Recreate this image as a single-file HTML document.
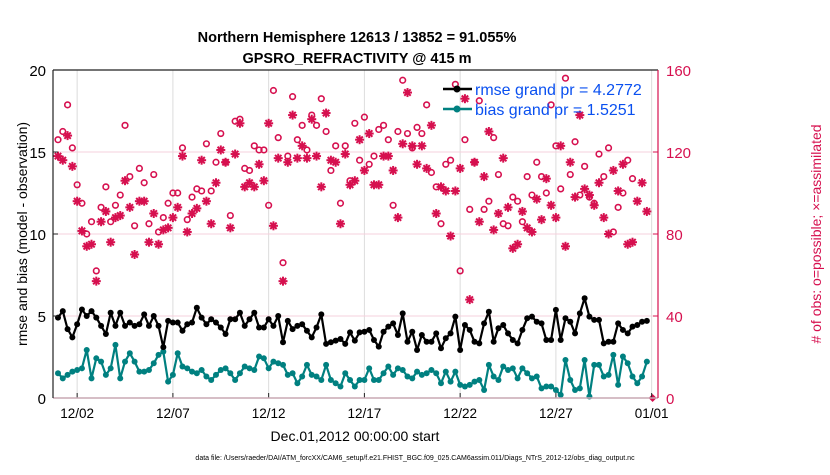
<!DOCTYPE html>
<html><head><meta charset="utf-8">
<style>
body{margin:0;background:#fff;}
svg text{font-family:"Liberation Sans",Arial,sans-serif;}
</style></head>
<body>
<svg id="chart" width="830" height="470" viewBox="0 0 830 470">
<rect width="830" height="470" fill="#fff"/>
<text x="357" y="42" font-size="14.5" font-weight="bold" text-anchor="middle">Northern Hemisphere 12613 / 13852 = 91.055%</text>
<text x="357" y="63" font-size="14.5" font-weight="bold" text-anchor="middle">GPSRO_REFRACTIVITY @ 415 m</text>
<g id="grid"></g>
<g id="marks"></g>
<g id="axes"></g>
<text transform="translate(27,234) rotate(-90)" font-size="14" text-anchor="middle">rmse and bias (model - observation)</text>
<text transform="translate(821,234) rotate(-90)" font-size="14" fill="#d6104f" text-anchor="middle"># of obs: o=possible; ×=assimilated</text>
<text x="355" y="441" font-size="14" text-anchor="middle">Dec.01,2012 00:00:00 start</text>
<text x="415" y="460" font-size="7" text-anchor="middle">data file: /Users/raeder/DAI/ATM_forcXX/CAM6_setup/f.e21.FHIST_BGC.f09_025.CAM6assim.011/Diags_NTrS_2012-12/obs_diag_output.nc</text>
<g>
  <line x1="443" y1="89" x2="472" y2="89" stroke="#000" stroke-width="2.5"/>
  <circle cx="457" cy="89" r="3.5" fill="#000"/>
  <text x="475" y="95" font-size="16" fill="#0a50f0">rmse grand pr = 4.2772</text>
  <line x1="443" y1="109" x2="472" y2="109" stroke="#008080" stroke-width="2.5"/>
  <circle cx="457" cy="109" r="3.5" fill="#008080"/>
  <text x="475" y="115" font-size="16" fill="#0a50f0">bias grand pr = 1.5251</text>
</g>
</svg>
<script>
const rmse=[4.9,5.3,4.2,3.7,4.5,5.4,5.0,5.3,4.9,4.4,3.9,5.2,4.4,5.2,4.4,4.6,4.4,4.5,5.1,4.4,5.0,4.4,3.1,4.7,4.6,4.6,4.1,4.5,4.6,5.5,4.9,4.5,4.8,4.6,4.3,3.9,4.8,4.8,5.2,4.4,4.8,5.2,4.3,4.3,4.8,4.4,5.0,3.4,4.7,4.2,4.4,4.5,4.1,3.7,4.3,5.1,3.3,3.4,3.5,3.6,3.3,4.0,3.5,4.0,
4.04,4.15,3.54,3.13,4.04,4.35,4.55,3.84,5.16,3.43,4.04,2.93,3.84,3.43,3.43,3.94,3.03,3.64,3.94,4.96,2.93,4.45,4.15,3.43,3.33,4.55,5.26,3.43,4.25,4.45,3.94,3.54,3.33,4.15,4.86,4.96,4.65,4.55,3.54,3.54,5.37,3.54,4.86,4.65,3.94,5.16,6.08,4.96,4.76,4.76,3.33,3.43,3.43,4.55,4.15,3.94,4.35,4.45,4.65,4.7];
const bias=[1.51,1.20,1.41,1.61,1.71,1.81,2.93,1.20,2.42,2.22,1.41,1.81,3.24,1.20,2.22,2.73,2.22,1.61,1.61,1.71,2.12,2.63,2.83,1.00,1.41,2.73,1.92,1.81,1.61,1.51,1.71,1.31,1.10,1.41,1.71,1.81,1.51,1.10,1.51,1.92,1.81,1.71,2.53,2.42,1.81,2.22,2.12,2.02,1.41,1.51,0.90,1.31,2.02,1.41,1.31,1.10,2.02,1.10,0.90,0.70,1.51,1.10,0.70,1.10,
1.10,1.81,1.10,1.10,1.51,1.92,1.41,1.81,1.71,1.31,1.20,1.61,1.41,1.51,1.71,1.51,0.90,1.61,1.00,1.61,0.80,0.70,0.80,1.00,1.10,0.49,2.02,1.31,1.10,1.92,1.71,1.81,1.20,1.81,1.51,1.20,1.31,0.59,0.70,0.70,0.49,0.19,2.32,1.10,0.49,0.59,2.32,0.09,2.02,2.02,1.31,1.41,2.63,0.80,2.53,2.12,1.31,0.90,1.31,2.22];
const possible=[126,130,143,122,104,95,80,86,62,93,103,86,94,99,133,108,84,112,105,85,109,81,88,95,100,100,122,87,98,102,101,124,101,115,129,115,89,135,136,112,111,123,121,121,94,150,127,66,118,147,126,133,121,138,133,146,130,111,123,95,123,106,
134,116,137,114,118,131,133,126,94,130,155,129,122,132,129,143,110,103,85,114,116,153,62,126,92,115,145,92,96,127,109,85,84,98,96,86,108,99,115,108,100,143,123,102,156,109,125,99,113,98,95,119,108,122,81,93,100,116,107];
const assimilated=[118,116,128,113,96,81.5,74,75,57,86,91,76,88,89,106,93,70,96,96,76,90,75,82,83,88,93,118,81,90,92.5,116,96,85,105,121,115,83,119,134,103,105,103,114,106,134,84,117,57,115,138,117,123,117,136,118,103,139,116,115,85,119,104,
106,126,111,129,104,104,118,118,111,88,124,149,123,114,123,112,133,90,103,101,79,101,112,146,48,115,86,108,130,82,90,117,93,73,75,91,83,81,97,87,107,94,88,123,74,115,98,138,102,99,94,105,88,80,111,101,114,75,76,96,105,91];
const finalPossible=[0];
const xTickLabels=["12/02","12/07","12/12","12/17","12/22","12/27","01/01"];
const xTickDays=[1,6,11,16,21,26,31];
const leftTicks=[0,5,10,15,20];
const rightTicks=[0,40,80,120,160];

const L=53,R=658,T=70,B=398;
const X0=58,PXD=19.15;
const xDay=d=>X0+d*PXD;
const yL=v=>B-(v/20)*(B-T);
const yR=v=>B-(v/160)*(B-T);
const NS="http://www.w3.org/2000/svg";
function mk(tag,attrs,parent){const e=document.createElementNS(NS,tag);for(const k in attrs)e.setAttribute(k,attrs[k]);parent.appendChild(e);return e;}
const grid=document.getElementById('grid'),marks=document.getElementById('marks'),axes=document.getElementById('axes');
const RED="#d6104f",TEAL="#008080";

xTickDays.forEach((d,i)=>{
  const x=xDay(d);
  const g=mk('line',{x1:x,y1:T,x2:x,y2:B,stroke:"#dcdcdc","stroke-width":1},grid);
  
  
  const t=mk('line',{x1:x,y1:B,x2:x,y2:B-5,stroke:"#222","stroke-width":1},axes);
  
  
  const lb=mk('text',{x:x,y:B+20,"font-size":13.5,"text-anchor":"middle"},axes);
  lb.textContent=xTickLabels[i];
  
  
});
leftTicks.forEach((v,i)=>{
  const y=yL(v);
  if(v>0&&v<20){const g=mk('line',{x1:L,y1:y,x2:R,y2:y,stroke:"#f6d0dc","stroke-width":1},grid);
  
  }
  const lb=mk('text',{x:L-7,y:y+6,"font-size":15,"text-anchor":"end"},axes);
  lb.textContent=v;
  
  
  const t=mk('line',{x1:L,y1:y,x2:L+5,y2:y,stroke:"#222"},axes);
  
  
});
rightTicks.forEach(v=>{
  const y=yR(v);
  const lb=mk('text',{x:R+8,y:y+6,"font-size":15,fill:RED},axes);
  lb.textContent=v;
  
  
  const t=mk('line',{x1:R-5,y1:y,x2:R,y2:y,stroke:RED},axes);
  
  
});
const bAx=mk('line',{x1:L,y1:B,x2:R,y2:B,stroke:"#c8a8b4","stroke-width":1.5},axes);


const tAx=mk('line',{x1:L,y1:T,x2:R,y2:T,stroke:"#222","stroke-width":1.2},axes);


const lAx=mk('line',{x1:L,y1:T,x2:L,y2:B,stroke:"#222","stroke-width":1.2},axes);


const rAx=mk('line',{x1:R,y1:T,x2:R,y2:B,stroke:RED,"stroke-width":1.2},axes);



function star(cx,cy,parent){
  const g=mk('g',{stroke:RED,"stroke-width":2},parent);
  [[0,4.5],[4.5,0],[3.2,3.2],[3.2,-3.2]].forEach(([dx,dy])=>mk('line',{x1:cx-dx,y1:cy-dy,x2:cx+dx,y2:cy+dy},g));
  return g;
}
possible.forEach((v,i)=>{
  const c=mk('circle',{cx:xDay(i/4),cy:yR(v),r:2.8,fill:"none",stroke:RED,"stroke-width":1.6},marks);
  
  
});
assimilated.forEach((v,i)=>{
  const s=star(xDay(i/4),yR(v),marks);
  
  
});
finalPossible.forEach(v=>{
  const x=xDay(31.05),y=yR(v);
  const d=mk('polygon',{points:`${x},${y-4} ${x+4},${y} ${x},${y+4} ${x-4},${y}`,fill:RED},marks);
  
  
});
function series(arr,color,name){
  const pts=arr.map((v,i)=>`${xDay(i/4).toFixed(1)},${yL(v).toFixed(1)}`).join(' ');
  const pl=mk('polyline',{points:pts,fill:"none",stroke:color,"stroke-width":2.2,"stroke-linejoin":"round"},marks);
  
  
  arr.forEach((v,i)=>{
    const c=mk('circle',{cx:xDay(i/4),cy:yL(v),r:3,fill:color},marks);
    
    
  });
}
series(bias,TEAL,'bias');
series(rmse,"#000",'rmse');
</script>
</body></html>
